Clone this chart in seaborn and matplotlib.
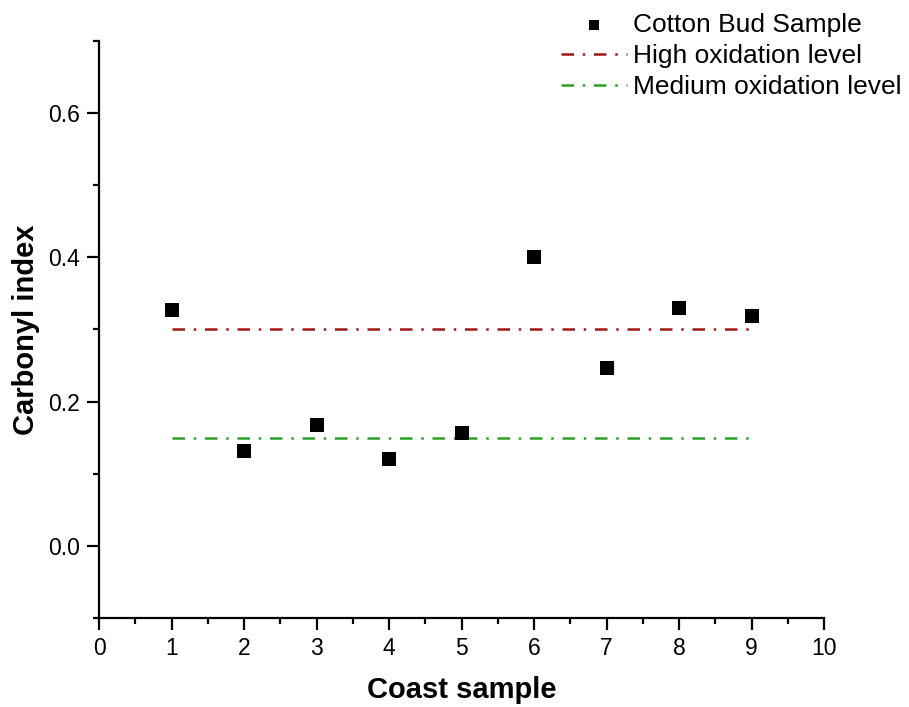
import matplotlib.pyplot as plt
import matplotlib.ticker as mticker
import seaborn as sns
import pandas as pd

# data
samples = [1, 2, 3, 4, 5, 6, 7, 8, 9]
carbonyl = [0.327, 0.132, 0.168, 0.121, 0.157, 0.401, 0.247, 0.330, 0.319]
line_x = [1, 9]
high_level = [0.30, 0.30]
medium_level = [0.15, 0.15]

sns.set_style("ticks")
plt.rcParams['font.family'] = ['Liberation Sans', 'DejaVu Sans']
plt.rcParams['text.color'] = 'black'
plt.rcParams['axes.labelcolor'] = 'black'
plt.rcParams['xtick.color'] = 'black'
plt.rcParams['ytick.color'] = 'black'
plt.rcParams['axes.edgecolor'] = 'black'

fig = plt.figure(figsize=(9.09, 7.07), dpi=100)
ax = fig.add_axes([0.109, 0.126, 0.7975, 0.816])

df = pd.DataFrame({'x': samples, 'y': carbonyl})
sns.scatterplot(data=df, x='x', y='y', marker='s', s=90, color='black',
                edgecolor='black', linewidth=0, ax=ax, label='Cotton Bud Sample', zorder=3)
sns.lineplot(x=line_x, y=high_level, color='#a01818', linestyle=(0, (5, 3.5, 1, 3.5)),
             linewidth=1.8, ax=ax, label='High oxidation level')
sns.lineplot(x=line_x, y=medium_level, color='#2ca02c', linestyle=(0, (5, 3.5, 1, 3.5)),
             linewidth=1.8, ax=ax, label='Medium oxidation level')

ax.set_xlim(0, 10)
ax.set_ylim(-0.1, 0.7)
ax.xaxis.set_major_locator(mticker.MultipleLocator(1))
ax.xaxis.set_minor_locator(mticker.MultipleLocator(0.5))
ax.yaxis.set_major_locator(mticker.FixedLocator([0.0, 0.2, 0.4, 0.6]))
ax.yaxis.set_minor_locator(mticker.FixedLocator([-0.1, 0.1, 0.3, 0.5, 0.7]))
ax.yaxis.set_major_formatter(mticker.FormatStrFormatter('%.1f'))
ax.tick_params(which='major', direction='out', length=8.5, width=1.6, labelsize=16.5, pad=5)
ax.tick_params(which='minor', direction='out', length=4.5, width=1.6)
sns.despine(ax=ax)
for s in ['left', 'bottom']:
    ax.spines[s].set_linewidth(1.6)

ax.set_xlabel('Coast sample', fontsize=21, fontweight='bold', labelpad=12)
ax.set_ylabel('Carbonyl index', fontsize=21, fontweight='bold', labelpad=6)

ax.legend(loc='upper right', bbox_to_anchor=(1.003, 0.997), bbox_transform=fig.transFigure,
          frameon=False, fontsize=19, handlelength=2.5, handletextpad=0.2,
          labelspacing=0.28, borderaxespad=0.0, markerscale=0.8)

fig.savefig('out.png', dpi=100, facecolor='white')
